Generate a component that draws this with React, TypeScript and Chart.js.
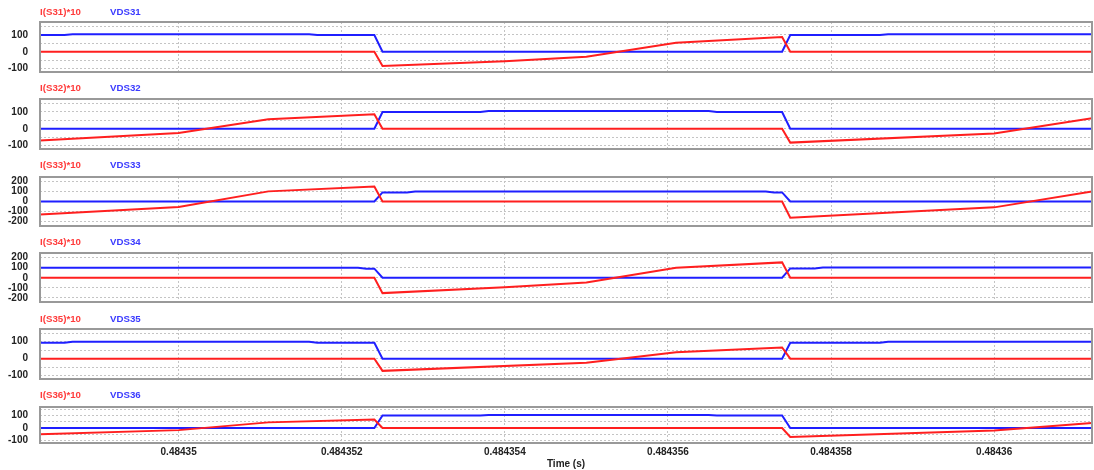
import React, { useEffect, useRef } from "react";
import { Chart, registerables } from "chart.js";

Chart.register(...registerables);

type Pt = [number, number];

// ---- Time axis ----
const xMin = 0.4843483;
const xMax = 0.4843612;
const xTickValues = [0.48435, 0.484352, 0.484354, 0.484356, 0.484358, 0.48436];
const xTickLabels = ["0.48435", "0.484352", "0.484354", "0.484356", "0.484358", "0.48436"];
const xTitle = "Time (s)";

// ---- Legend labels ----
const currentLabels = ["I(S31)*10", "I(S32)*10", "I(S33)*10", "I(S34)*10", "I(S35)*10", "I(S36)*10"];
const voltageLabels = ["VDS31", "VDS32", "VDS33", "VDS34", "VDS35", "VDS36"];

// ---- Y grid / tick labels ----
const yGridSmall = [150, 100, 50, 0, -50, -100];
const yLabelsSmall = [100, 0, -100];
const yGridLarge = [200, 100, 0, -100, -200];
const yLabelsLarge = [200, 100, 0, -100, -200];

// ---- Y ranges ----
const yMins = [-120, -120, -242, -240, -120, -120];
const yMaxs = [177, 177, 242, 245, 175, 168];

// ---- Series: [time (s), value] ----
const iS31: Pt[] = [[0.4843483, 0], [0.4843524, 0], [0.4843525, -84], [0.484354, -56], [0.484355, -29], [0.4843561, 54], [0.4843574, 88], [0.4843575, 0], [0.4843612, 0]];
const vS31: Pt[] = [[0.4843483, 100], [0.4843486, 100], [0.4843487, 104], [0.4843516, 104], [0.4843517, 100], [0.4843524, 100], [0.4843525, 0], [0.4843574, 0], [0.4843575, 100], [0.4843586, 100], [0.4843587, 104], [0.4843612, 104]];

const iS32: Pt[] = [[0.4843483, -69], [0.48435, -25], [0.4843511, 57], [0.4843524, 86], [0.4843525, 0], [0.4843574, 0], [0.4843575, -82], [0.48436, -28], [0.4843612, 63]];
const vS32: Pt[] = [[0.4843483, 0], [0.4843524, 0], [0.4843525, 100], [0.4843537, 100], [0.4843538, 105], [0.4843565, 105], [0.4843566, 100], [0.4843574, 100], [0.4843575, 0], [0.4843612, 0]];

const iS33: Pt[] = [[0.4843483, -129], [0.48435, -55], [0.4843511, 100], [0.4843524, 149], [0.4843525, 0], [0.4843574, 0], [0.4843575, -160], [0.48436, -58], [0.4843612, 100]];
const vS33: Pt[] = [[0.4843483, 0], [0.4843524, 0], [0.4843525, 90], [0.4843528, 90], [0.4843529, 98], [0.4843572, 98], [0.4843573, 90], [0.4843574, 90], [0.4843575, 0], [0.4843612, 0]];

const iS34: Pt[] = [[0.4843483, 0], [0.4843524, 0], [0.4843525, -152], [0.484354, -95], [0.484355, -48], [0.4843561, 99], [0.4843574, 152], [0.4843575, 0], [0.4843612, 0]];
const vS34: Pt[] = [[0.4843483, 99], [0.4843522, 99], [0.4843523, 90], [0.4843524, 90], [0.4843525, 0], [0.4843574, 0], [0.4843575, 92], [0.4843578, 92], [0.4843579, 102], [0.4843612, 102]];

const iS35: Pt[] = [[0.4843483, 0], [0.4843524, 0], [0.4843525, -72], [0.484355, -24], [0.4843561, 38], [0.4843574, 66], [0.4843575, 0], [0.4843612, 0]];
const vS35: Pt[] = [[0.4843483, 94], [0.4843486, 94], [0.4843487, 100], [0.4843516, 100], [0.4843517, 94], [0.4843524, 94], [0.4843525, 0], [0.4843574, 0], [0.4843575, 94], [0.4843586, 94], [0.4843587, 100], [0.4843612, 100]];

const iS36: Pt[] = [[0.4843483, -50], [0.48435, -17], [0.4843511, 45], [0.4843524, 68], [0.4843525, 0], [0.4843574, 0], [0.4843575, -72], [0.48436, -20], [0.4843612, 40]];
const vS36: Pt[] = [[0.4843483, 0], [0.4843524, 0], [0.4843525, 100], [0.4843537, 100], [0.4843538, 104], [0.4843565, 104], [0.4843566, 100], [0.4843574, 100], [0.4843575, 0], [0.4843612, 0]];

const currents = [iS31, iS32, iS33, iS34, iS35, iS36];
const voltages = [vS31, vS32, vS33, vS34, vS35, vS36];
const yGrids = [yGridSmall, yGridSmall, yGridLarge, yGridLarge, yGridSmall, yGridSmall];
const yLabels = [yLabelsSmall, yLabelsSmall, yLabelsLarge, yLabelsLarge, yLabelsSmall, yLabelsSmall];

// ---- Layout (pixels) ----
const W = 1094;
const H = 470;
const PAD = 8;
const PLOT_LEFT = 40;
const PLOT_RIGHT = 1092;
const frameTops = [22, 99, 177, 253, 329, 407];
const frameBottoms = [72, 149, 226, 302, 379, 443];
const legendCenters = [12, 88, 165, 242, 319, 395];

const RED = "#ff1f1f";
const BLUE = "#1f1fff";
const RED_TEXT = "#ff3b3b";
const BLUE_TEXT = "#3b3bff";
const GRID = "#c4c4c4";
const FRAME = "#999999";
const FONT = 'Arial, "Liberation Sans", sans-serif';

const framePlugin = {
  id: "frame",
  afterDraw(chart: any) {
    const { ctx, chartArea: a } = chart;
    ctx.save();
    ctx.strokeStyle = FRAME;
    ctx.lineWidth = 2;
    ctx.strokeRect(a.left, a.top, a.right - a.left, a.bottom - a.top);
    ctx.restore();
  },
};

function Panel({ idx }: { idx: number }) {
  const ref = useRef<HTMLCanvasElement>(null);
  const isLast = idx === frameTops.length - 1;
  const top = frameTops[idx] - PAD;
  const height = isLast ? H - top : frameBottoms[idx] - frameTops[idx] + 2 * PAD;

  useEffect(() => {
    const grid = yGrids[idx];
    const labels = yLabels[idx];
    const chart = new Chart(ref.current as HTMLCanvasElement, {
      type: "line",
      data: {
        datasets: [
          {
            label: currentLabels[idx],
            data: currents[idx].map(([x, y]) => ({ x, y })),
            borderColor: RED,
            borderWidth: 2,
            pointRadius: 0,
            tension: 0,
            fill: false,
          },
          {
            label: voltageLabels[idx],
            data: voltages[idx].map(([x, y]) => ({ x, y })),
            borderColor: BLUE,
            borderWidth: 2,
            pointRadius: 0,
            tension: 0,
            fill: false,
          },
        ],
      },
      options: {
        animation: false,
        responsive: false,
        events: [],
        layout: {
          padding: { left: 0, right: W - PLOT_RIGHT, top: PAD, bottom: isLast ? 0 : PAD },
        },
        plugins: {
          legend: { display: false },
          tooltip: { enabled: false },
        },
        scales: {
          x: {
            type: "linear",
            min: xMin,
            max: xMax,
            afterBuildTicks: (s: any) => {
              s.ticks = xTickValues.map((v) => ({ value: v }));
            },
            afterFit: (s: any) => {
              s.height = isLast ? H - frameBottoms[idx] : 0;
              s.paddingLeft = 0;
              s.paddingRight = 0;
            },
            ticks: {
              display: isLast,
              autoSkip: false,
              maxRotation: 0,
              padding: 3,
              color: "#222",
              font: { family: FONT, size: 10, weight: "bold" },
              callback: (_v: any, i: number) => xTickLabels[i],
            },
            title: {
              display: isLast,
              text: xTitle,
              color: "#222",
              font: { family: FONT, size: 10, weight: "bold" },
              padding: { top: 0, bottom: 0 },
            },
            grid: { color: GRID, lineWidth: 1, drawTicks: false },
            border: { display: false, dash: [2, 2] },
          },
          y: {
            type: "linear",
            min: yMins[idx],
            max: yMaxs[idx],
            afterBuildTicks: (s: any) => {
              s.ticks = grid.map((v) => ({ value: v }));
            },
            afterFit: (s: any) => {
              s.width = PLOT_LEFT;
              s.paddingTop = 0;
              s.paddingBottom = 0;
            },
            ticks: {
              autoSkip: false,
              padding: 12,
              color: "#222",
              font: { family: FONT, size: 10, weight: "bold" },
              callback: (v: any) => (labels.includes(Number(v)) ? String(v) : ""),
            },
            grid: { color: GRID, lineWidth: 1, drawTicks: false },
            border: { display: false, dash: [2, 2] },
          },
        },
      } as any,
      plugins: [framePlugin],
    });
    return () => chart.destroy();
  }, [idx]);

  return (
    <canvas
      ref={ref}
      width={W}
      height={height}
      style={{ position: "absolute", left: 0, top, width: W, height, display: "block" }}
    />
  );
}

export default function App() {
  return (
    <div
      style={{
        position: "absolute",
        left: 0,
        top: 0,
        width: W,
        height: H,
        background: "#ffffff",
        overflow: "hidden",
      }}
    >
      {frameTops.map((_, i) => (
        <Panel key={i} idx={i} />
      ))}
      {legendCenters.map((c, i) => (
        <React.Fragment key={"lg" + i}>
          <div
            style={{
              position: "absolute",
              left: PLOT_LEFT,
              top: c - 6,
              font: `bold 9.7px ${FONT}`,
              lineHeight: "12px",
              color: RED_TEXT,
              whiteSpace: "nowrap",
            }}
          >
            {currentLabels[i]}
          </div>
          <div
            style={{
              position: "absolute",
              left: 110,
              top: c - 6,
              font: `bold 9.7px ${FONT}`,
              lineHeight: "12px",
              color: BLUE_TEXT,
              whiteSpace: "nowrap",
            }}
          >
            {voltageLabels[i]}
          </div>
        </React.Fragment>
      ))}
    </div>
  );
}
